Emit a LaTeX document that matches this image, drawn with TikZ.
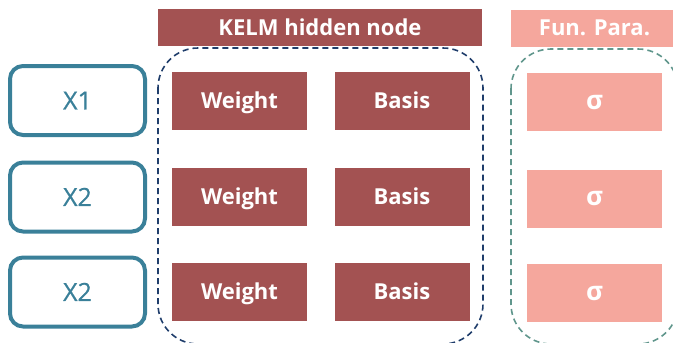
\documentclass[tikz,border=0pt]{standalone}
\usepackage{fontspec}
\setmainfont{Open Sans}
\newfontfamily\inputfont[FakeBold=0.6]{Open Sans}
\begin{document}
\begin{tikzpicture}[x=1pt,y=-1pt,
  inbox/.style={draw=inblue,line width=4pt,rounded corners=13pt,minimum width=135pt,minimum height=69pt,text=inblue,text height=17.9pt,text depth=0pt,font=\inputfont\fontsize{25}{28}\selectfont},
  kbox/.style={fill=kred,minimum width=135pt,minimum height=58pt,text=white,text height=15.7pt,text depth=0pt,font=\bfseries\fontsize{22}{25}\selectfont},
  sbox/.style={fill=salmon,minimum width=135pt,minimum height=58pt,text=white,text height=14pt,text depth=0pt,font=\bfseries\fontsize{26}{28}\selectfont},
  header/.style={minimum height=37pt,text=white,text height=15.7pt,text depth=0pt,font=\bfseries\fontsize{22}{25}\selectfont},
  group/.style={dashed,dash pattern=on 6pt off 4pt,line width=1.6pt,rounded corners=40pt}]
\definecolor{inblue}{RGB}{58,128,153}
\definecolor{kred}{RGB}{163,82,82}
\definecolor{salmon}{RGB}{245,167,157}
\definecolor{navy}{RGB}{31,61,107}
\definecolor{sage}{RGB}{96,150,140}
\useasboundingbox (0,0) rectangle (673,343);
\clip (0,0) rectangle (673,343);

% headers
\node[header,fill=kred,minimum width=324pt] (hk) at (320,27.5) {KELM hidden node};
\node[header,fill=salmon,minimum width=167pt] (hf) at (594.5,28) {Fun. Para.};

% dashed groups
\draw[group,draw=navy] (158,48) rectangle (483,344);
\draw[group,draw=sage] (511,49) rectangle (678,344);

% inputs
\node[inbox] (x1) at (77.5,100.5) {X1};
\node[inbox] (x2) at (77.5,197) {X2};
\node[inbox] (x3) at (77.5,292) {X2};

% hidden node parameters
\node[kbox] (w1) at (239.5,101) {Weight};
\node[kbox] (w2) at (239.5,197) {Weight};
\node[kbox] (w3) at (239.5,292) {Weight};
\node[kbox] (b1) at (402,101) {Basis};
\node[kbox] (b2) at (402,197) {Basis};
\node[kbox] (b3) at (402,292) {Basis};

% function parameters
\node[sbox] (s1) at (594.5,102) {σ};
\node[sbox] (s2) at (594.5,198.5) {σ};
\node[sbox] (s3) at (594.5,293) {σ};
\end{tikzpicture}
\end{document}
